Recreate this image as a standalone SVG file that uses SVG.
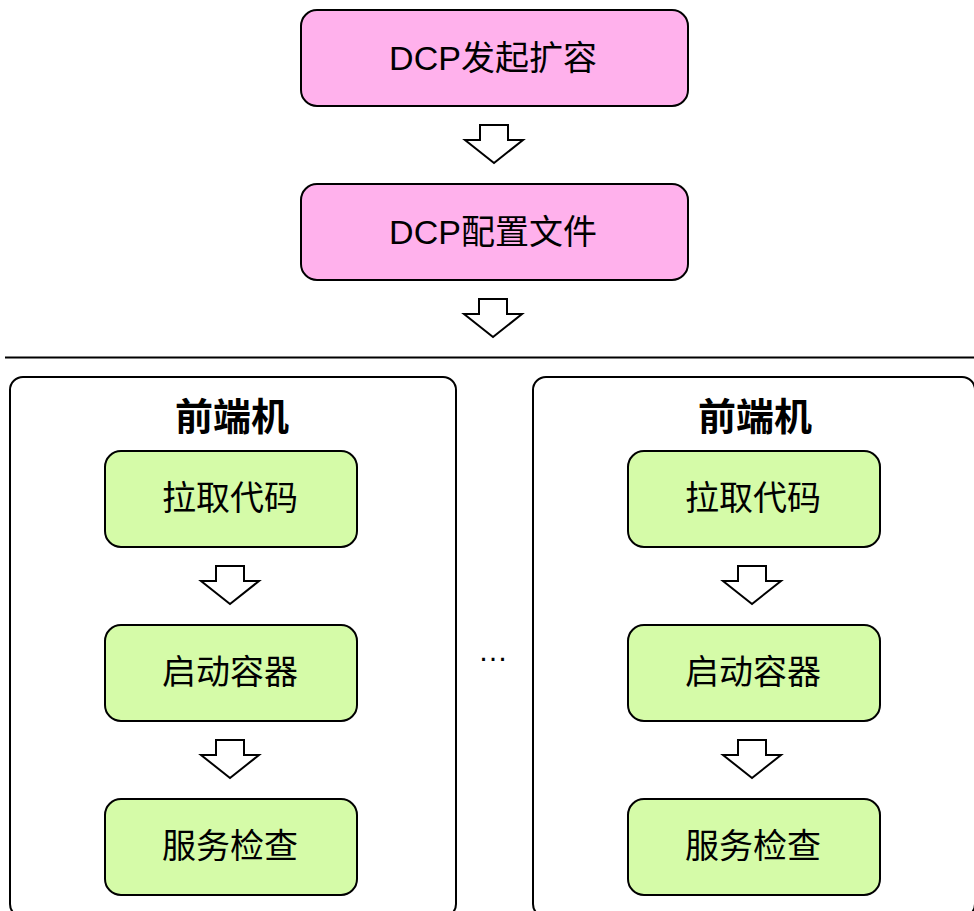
<svg xmlns="http://www.w3.org/2000/svg" width="974" height="911" viewBox="0 0 974 911">
<defs>
<style>
.pink{fill:#ffb1ec;stroke:#000;stroke-width:2}
.green{fill:#d5fba8;stroke:#000;stroke-width:2}
.cont{fill:#fff;stroke:#000;stroke-width:2}
.arr{fill:#fff;stroke:#000;stroke-width:2;stroke-linejoin:miter}
.t{font-family:"Liberation Sans","Noto Sans CJK SC",sans-serif;font-size:34px;fill:#000;text-anchor:middle;dominant-baseline:central}
.title{font-family:"Noto Sans CJK SC",sans-serif;font-size:38px;font-weight:bold;fill:#000;text-anchor:middle;dominant-baseline:central}
</style>
<path id="ar" d="M-14,0 H14 V15 H29 L0,38 L-29,15 H-14 Z"/>
</defs>
<rect width="974" height="911" fill="#fff"/>
<g id="containers">
<rect id="left-host" class="cont" x="10" y="377" width="446" height="540" rx="13"/>
<rect id="right-host" class="cont" x="533" y="377" width="442" height="540" rx="13"/>
</g>
<g id="n-dcp-start"><rect class="pink" x="301" y="10" width="387" height="96" rx="16"/><text class="t" x="493" y="58">DCP发起扩容</text></g>
<g id="n-dcp-config"><rect class="pink" x="301" y="184" width="387" height="96" rx="16"/><text class="t" x="493" y="232">DCP配置文件</text></g>
<g id="title-left"><text class="title" x="232" y="413">前端机</text></g>
<g id="title-right"><text class="title" x="755" y="413">前端机</text></g>
<g id="n-l1"><rect class="green" x="105" y="451" width="252" height="96" rx="16"/><text class="t" x="230" y="498">拉取代码</text></g>
<g id="n-l2"><rect class="green" x="105" y="625" width="252" height="96" rx="16"/><text class="t" x="230" y="672">启动容器</text></g>
<g id="n-l3"><rect class="green" x="105" y="799" width="252" height="96" rx="16"/><text class="t" x="230" y="846">服务检查</text></g>
<g id="n-r1"><rect class="green" x="628" y="451" width="252" height="96" rx="16"/><text class="t" x="753" y="498">拉取代码</text></g>
<g id="n-r2"><rect class="green" x="628" y="625" width="252" height="96" rx="16"/><text class="t" x="753" y="672">启动容器</text></g>
<g id="n-r3"><rect class="green" x="628" y="799" width="252" height="96" rx="16"/><text class="t" x="753" y="846">服务检查</text></g>
<g id="ellipsis"><text class="t" x="493" y="650" style="font-size:30px">…</text></g>
<g id="connectors">
<use href="#ar" class="arr" x="494" y="125"/>
<use href="#ar" class="arr" x="493" y="299"/>
<line x1="5" y1="357.5" x2="974" y2="357.5" stroke="#000" stroke-width="2"/>
<use href="#ar" class="arr" x="230" y="566"/>
<use href="#ar" class="arr" x="230" y="740"/>
<use href="#ar" class="arr" x="752" y="566"/>
<use href="#ar" class="arr" x="752" y="740"/>
</g>
</svg>
